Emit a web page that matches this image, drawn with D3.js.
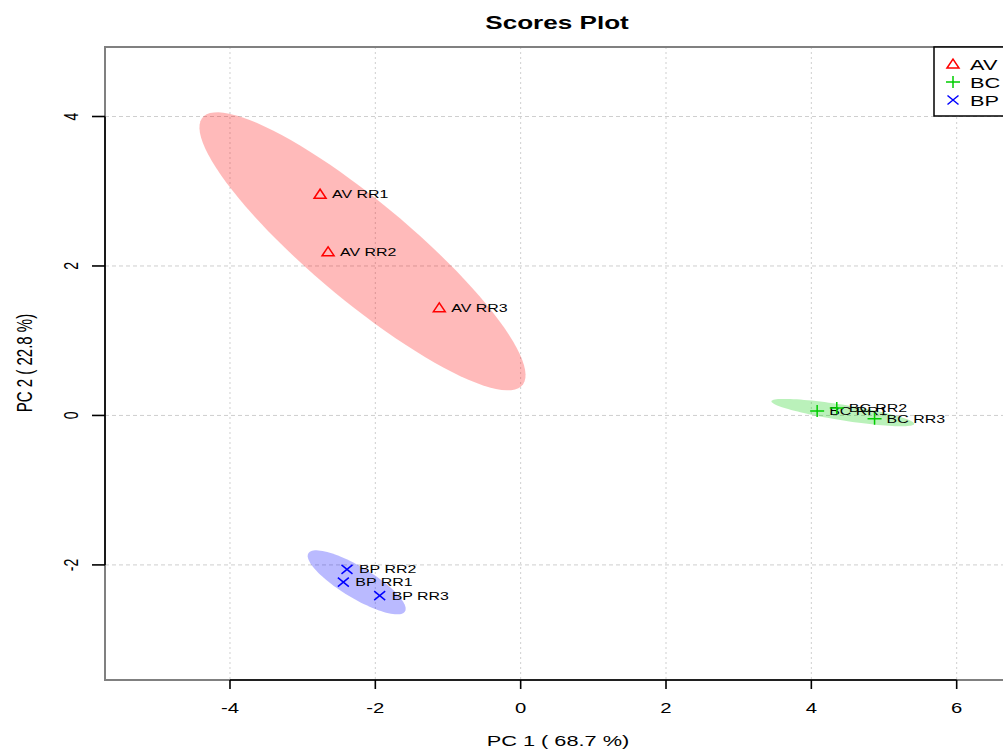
<!DOCTYPE html>
<html>
<head>
<meta charset="utf-8">
<script src="https://cdn.jsdelivr.net/npm/d3@7"></script>
<style>
  body { margin: 0; background: #fff; }
  svg { display: block; font-family: "Liberation Sans", Arial, sans-serif; }
</style>
</head>
<body>
<svg id="chart" width="1003" height="749"></svg>
<script>
// datos
var groups = ["AV", "BC", "BP"];
var groupColors = ["#ff0000", "#00cd00", "#0000ff"];
var sampleNames = ["AV RR1", "AV RR2", "AV RR3", "BC RR1", "BC RR2", "BC RR3", "BP RR1", "BP RR2", "BP RR3"];
var sampleGroups = ["AV", "AV", "AV", "BC", "BC", "BC", "BP", "BP", "BP"];
var pc1 = [-2.76, -2.65, -1.12, 4.08, 4.35, 4.87, -2.44, -2.39, -1.94];
var pc2 = [2.96, 2.19, 1.44, 0.06, 0.10, -0.045, -2.23, -2.06, -2.41];
var xTicks = [-4, -2, 0, 2, 4, 6];
var yTicks = [-2, 0, 2, 4];
var xLabel = "PC 1 ( 68.7 %)";
var yLabel = "PC 2 ( 22.8 %)";
var title = "Scores Plot";

var SX = 1.45; // el original esta estirado en horizontal

var svg = d3.select("#chart");
var margin = {left: 105, top: 47, right: 1009, bottom: 680};

var x = d3.scaleLinear().domain([-5.72, 6.72]).range([margin.left, margin.right]);
var y = d3.scaleLinear().domain([-3.54, 4.93]).range([margin.bottom, margin.top]);

function label(g, px, py, s, size, anchor, rot, weight) {
    return g.append("text")
        .attr("transform", "translate(" + px + "," + py + ") scale(" + SX + ",1)" + (rot ? " rotate(-90)" : ""))
        .attr("text-anchor", anchor)
        .attr("font-size", size)
        .attr("font-weight", weight || "normal")
        .attr("fill", "#000")
        .text(s);
}

// rejilla
var grid = svg.append("g");
grid.selectAll(".vg").data(xTicks).enter().append("line")
    .attr("x1", d => x(d)).attr("x2", d => x(d))
    .attr("y1", margin.top).attr("y2", margin.bottom)
    .attr("stroke", "#cfcfcf").attr("stroke-width", 1).attr("stroke-dasharray", "2,3");
grid.selectAll(".hg").data(yTicks).enter().append("line")
    .attr("x1", margin.left).attr("x2", margin.right)
    .attr("y1", d => y(d)).attr("y2", d => y(d))
    .attr("stroke", "#cfcfcf").attr("stroke-width", 1).attr("stroke-dasharray", "4,3");

// elipses de confianza 95%
var tq = Math.sqrt(-2 * Math.log(0.05)); // sqrt(qchisq(.95, 2))
function ellipsePoints(xs, ys) {
    var n = xs.length;
    var mx = d3.mean(xs), my = d3.mean(ys);
    var sx = d3.deviation(xs), sy = d3.deviation(ys);
    var cov = d3.sum(xs.map((v, i) => (v - mx) * (ys[i] - my))) / (n - 1);
    var r = cov / (sx * sy);
    var dd = Math.acos(r);
    return d3.range(0, 101).map(function(i) {
        var a = i / 100 * 2 * Math.PI;
        return [x(mx + tq * sx * Math.cos(a + dd / 2)), y(my + tq * sy * Math.cos(a - dd / 2))];
    });
}

var ell = svg.append("g");
groups.forEach(function(gname, gi) {
    var idx = d3.range(sampleNames.length).filter(i => sampleGroups[i] === gname);
    var pts = ellipsePoints(idx.map(i => pc1[i]), idx.map(i => pc2[i]));
    ell.append("path")
        .attr("d", d3.line()(pts) + "Z")
        .attr("fill", groupColors[gi])
        .attr("fill-opacity", 0.27)
        .attr("stroke", "none");
});

// marco y ejes
svg.append("rect")
    .attr("x", margin.left).attr("y", margin.top)
    .attr("width", margin.right - margin.left).attr("height", margin.bottom - margin.top)
    .attr("fill", "none").attr("stroke", "#808080").attr("stroke-width", 2);

var axes = svg.append("g").attr("stroke", "#000").attr("stroke-width", 1.6);
axes.append("line")
    .attr("x1", x(xTicks[0])).attr("x2", x(xTicks[xTicks.length - 1]))
    .attr("y1", margin.bottom).attr("y2", margin.bottom);
axes.selectAll(".xt").data(xTicks).enter().append("line")
    .attr("x1", d => x(d)).attr("x2", d => x(d))
    .attr("y1", margin.bottom).attr("y2", margin.bottom + 9);
axes.append("line")
    .attr("x1", margin.left).attr("x2", margin.left)
    .attr("y1", y(yTicks[0])).attr("y2", y(yTicks[yTicks.length - 1]));
axes.selectAll(".yt").data(yTicks).enter().append("line")
    .attr("x1", margin.left - 13).attr("x2", margin.left)
    .attr("y1", d => y(d)).attr("y2", d => y(d));

xTicks.forEach(function(t) {
    label(svg, x(t), 713, t < 0 ? "-" + Math.abs(t) : String(t), 14, "middle");
});
yTicks.forEach(function(t) {
    label(svg, 78, y(t), t < 0 ? "-" + Math.abs(t) : String(t), 14, "middle", true);
});

label(svg, 558, 746, xLabel, 15, "middle");
label(svg, 32, 363, yLabel, 15, "middle", true);
label(svg, 557, 29, title, 18, "middle", false, "bold");

// simbolos
function symbolPath(gname, cx, cy) {
    if (gname === "AV") {
        return "M" + (cx - 6) + "," + (cy + 4) + "L" + cx + "," + (cy - 5) + "L" + (cx + 6) + "," + (cy + 4) + "Z";
    } else if (gname === "BC") {
        return "M" + (cx - 7) + "," + cy + "H" + (cx + 7) + "M" + cx + "," + (cy - 6) + "V" + (cy + 6);
    }
    return "M" + (cx - 5.5) + "," + (cy - 4.5) + "L" + (cx + 5.5) + "," + (cy + 4.5) +
        "M" + (cx - 5.5) + "," + (cy + 4.5) + "L" + (cx + 5.5) + "," + (cy - 4.5);
}

var pts = svg.append("g");
sampleNames.forEach(function(name, i) {
    var gi = groups.indexOf(sampleGroups[i]);
    var cx = x(pc1[i]), cy = y(pc2[i]);
    pts.append("path")
        .attr("d", symbolPath(sampleGroups[i], cx, cy))
        .attr("fill", "none")
        .attr("stroke", groupColors[gi])
        .attr("stroke-width", 1.5);
    label(pts, cx + 12, cy + 4, name, 11, "start");
});

// leyenda
var leg = svg.append("g");
leg.append("rect")
    .attr("x", 934).attr("y", margin.top)
    .attr("width", margin.right - 934 + 20).attr("height", 116 - margin.top)
    .attr("fill", "#fff").attr("stroke", "#000").attr("stroke-width", 1.5);
groups.forEach(function(gname, gi) {
    var ly = 64 + gi * 18;
    leg.append("path")
        .attr("d", symbolPath(gname, 953, ly))
        .attr("fill", "none")
        .attr("stroke", groupColors[gi])
        .attr("stroke-width", 1.5);
    label(leg, 970, ly + 5.5, gname, 15, "start");
});
</script>
</body>
</html>
